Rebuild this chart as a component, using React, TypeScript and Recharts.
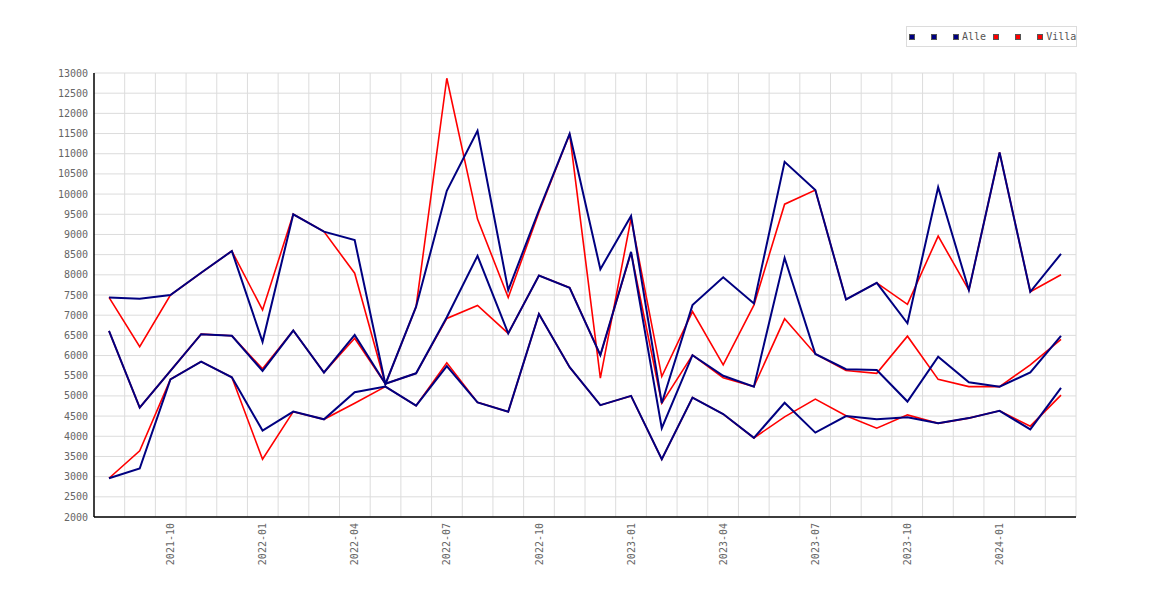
import React from 'react';
import { LineChart, Line, XAxis, YAxis, CartesianGrid } from 'recharts';

const months = [
    '2021-08', '2021-09', '2021-10', '2021-11', '2021-12',
    '2022-01', '2022-02', '2022-03', '2022-04', '2022-05', '2022-06',
    '2022-07', '2022-08', '2022-09', '2022-10', '2022-11', '2022-12',
    '2023-01', '2023-02', '2023-03', '2023-04', '2023-05', '2023-06',
    '2023-07', '2023-08', '2023-09', '2023-10', '2023-11', '2023-12',
    '2024-01', '2024-02', '2024-03',
];

const shownMonths = [
    '2021-10', '2022-01', '2022-04', '2022-07', '2022-10',
    '2023-01', '2023-04', '2023-07', '2023-10', '2024-01',
];

const yTicks = [
    2000, 2500, 3000, 3500, 4000, 4500, 5000, 5500, 6000, 6500, 7000, 7500,
    8000, 8500, 9000, 9500, 10000, 10500, 11000, 11500, 12000, 12500, 13000,
];

// Alle
const alleHigh = [7440, 7410, 7500, 8050, 8590, 6340, 9500, 9070, 8860, 5290, 7210, 10080, 11570, 7620, 9600, 11490, 8140, 9460, 4820, 7250, 7940, 7290, 10800, 10100, 7390, 7800, 6800, 10170, 7620, 11030, 7580, 8520];
const alleMid = [6610, 4710, 5620, 6530, 6490, 5620, 6620, 5580, 6510, 5300, 5560, 6950, 8470, 6550, 7980, 7680, 6010, 8570, 4200, 6010, 5500, 5230, 8420, 6040, 5660, 5640, 4860, 5970, 5340, 5230, 5580, 6490];
const alleLow = [2960, 3200, 5410, 5850, 5460, 4140, 4610, 4420, 5090, 5230, 4760, 5740, 4840, 4610, 7030, 5710, 4770, 5000, 3430, 4960, 4550, 3960, 4830, 4090, 4500, 4420, 4470, 4320, 4450, 4630, 4170, 5200];

// Villa
const villaHigh = [7440, 6220, 7500, 8050, 8590, 7130, 9500, 9070, 8040, 5290, 7210, 12870, 9380, 7440, 9550, 11490, 5440, 9400, 5480, 7090, 5770, 7250, 9750, 10100, 7390, 7800, 7270, 8960, 7620, 11030, 7580, 8000];
const villaMid = [6610, 4710, 5620, 6530, 6490, 5670, 6620, 5580, 6430, 5300, 5560, 6920, 7240, 6550, 7980, 7680, 6010, 8550, 4820, 6010, 5450, 5230, 6910, 6040, 5630, 5560, 6480, 5410, 5230, 5230, 5770, 6400];
const villaLow = [2960, 3640, 5410, 5850, 5460, 3430, 4610, 4420, 4820, 5230, 4760, 5820, 4840, 4610, 7030, 5710, 4770, 5000, 3430, 4960, 4550, 3960, 4480, 4920, 4510, 4200, 4530, 4320, 4450, 4630, 4250, 5020];

const data = months.map((month, i) => ({
    month,
    alleHigh: alleHigh[i],
    alleMid: alleMid[i],
    alleLow: alleLow[i],
    villaHigh: villaHigh[i],
    villaMid: villaMid[i],
    villaLow: villaLow[i],
}));

const NAVY = '#000080';
const RED = '#ff0000';
const FONT = '"DejaVu Sans Mono", monospace';

const legendItems = [
    { name: ' ', color: NAVY },
    { name: ' ', color: NAVY },
    { name: 'Alle', color: NAVY },
    { name: ' ', color: RED },
    { name: ' ', color: RED },
    { name: 'Villa', color: RED },
];

const MonthTick = (props: any) => {
    const { x, y, payload } = props;
    return (
        <g transform={`translate(${x},${y})`}>
            <text
                transform="rotate(-90)"
                x={-6}
                y={0}
                dy={3.6}
                textAnchor="end"
                fontSize={10}
                fontFamily={FONT}
                fill="#666"
            >
                {payload.value}
            </text>
        </g>
    );
};

const App: React.FC = () => {
    return (
        <div style={{ position: 'relative', width: 1154, height: 584 }}>
            <LineChart
                width={1154}
                height={584}
                data={data}
                margin={{ top: 65, right: 86, left: 26, bottom: 15 }}
            >
                <CartesianGrid
                    stroke="#dcdcdc"
                    verticalCoordinatesGenerator={({ offset }: any) =>
                        Array.from({ length: months.length }, (_, k) => offset.left + ((k + 1) * offset.width) / months.length)
                    }
                />
                <XAxis
                    dataKey="month"
                    ticks={shownMonths}
                    interval={0}
                    padding={{ left: 15, right: 15 }}
                    height={60}
                    stroke="#000"
                    tickLine={false}
                    tickSize={0}
                    tickMargin={0}
                    axisLine={{ stroke: '#000', strokeWidth: 1.5 }}
                    tick={<MonthTick />}
                />
                <YAxis
                    type="number"
                    domain={[2000, 13000]}
                    ticks={yTicks}
                    interval={0}
                    width={60}
                    stroke="#000"
                    tickLine={false}
                    tickSize={0}
                    tickMargin={6}
                    axisLine={{ stroke: '#000', strokeWidth: 1.5 }}
                    tick={{ fontSize: 10, fill: '#666', fontFamily: FONT }}
                />
                <Line type="linear" dataKey="villaHigh" stroke={RED} strokeWidth={1.6} dot={false} isAnimationActive={false} />
                <Line type="linear" dataKey="villaMid" stroke={RED} strokeWidth={1.6} dot={false} isAnimationActive={false} />
                <Line type="linear" dataKey="villaLow" stroke={RED} strokeWidth={1.6} dot={false} isAnimationActive={false} />
                <Line type="linear" dataKey="alleHigh" stroke={NAVY} strokeWidth={2} dot={false} isAnimationActive={false} />
                <Line type="linear" dataKey="alleMid" stroke={NAVY} strokeWidth={2} dot={false} isAnimationActive={false} />
                <Line type="linear" dataKey="alleLow" stroke={NAVY} strokeWidth={2} dot={false} isAnimationActive={false} />
            </LineChart>
            <div
                style={{
                    position: 'absolute',
                    left: 898,
                    top: 18,
                    width: 171,
                    height: 21,
                    boxSizing: 'border-box',
                    border: '1px solid #dcdcdc',
                    background: '#fff',
                    display: 'flex',
                    alignItems: 'center',
                    paddingLeft: 2,
                    fontFamily: FONT,
                    fontSize: 10,
                    color: '#555',
                }}
            >
                {legendItems.map((item, i) => (
                    <div key={i} style={{ display: 'flex', alignItems: 'center', marginRight: 7 }}>
                        <span
                            style={{
                                display: 'inline-block',
                                width: 6,
                                height: 6,
                                boxSizing: 'border-box',
                                border: '1px solid #555',
                                background: item.color,
                                marginRight: 3,
                            }}
                        />
                        <span style={{ whiteSpace: 'pre' }}>{item.name}</span>
                    </div>
                ))}
            </div>
        </div>
    );
};

export default App;
